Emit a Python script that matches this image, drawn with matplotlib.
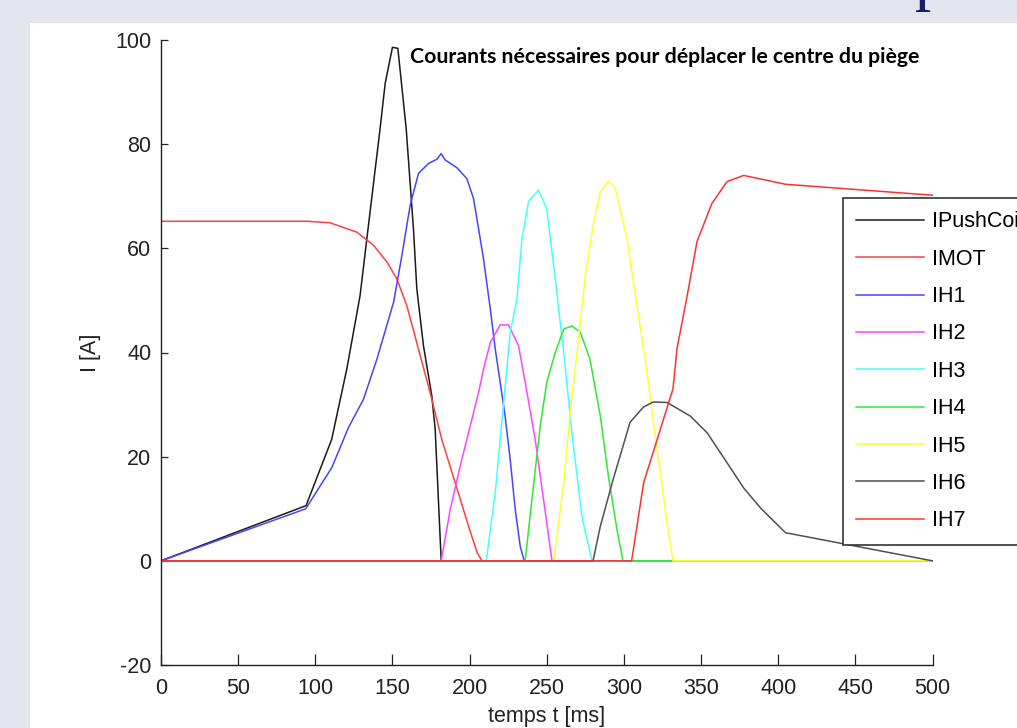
import numpy as np
import matplotlib.pyplot as plt
from matplotlib.patches import Rectangle

plt.rcParams['font.family'] = ['Liberation Sans', 'DejaVu Sans']
plt.rcParams['axes.unicode_minus'] = False

# values (t in ms, I in A)
t_push = [0, 94, 110.6, 120.4, 129, 135.5, 142, 145.3, 150, 153.5, 158.9, 163.6,
          165.8, 170.1, 175.5, 177.7, 181.6, 500]
i_push = [0, 10.6, 23.3, 36.8, 50.9, 67, 83, 91.7, 98.6, 98.4, 83, 63.8,
          52.2, 41.3, 31.7, 25.2, 0, 0]

t_mot = [0, 95, 109.6, 126.9, 137.7, 146.4, 152.9, 159.3, 163.4, 168, 174.4,
         179.8, 182, 187.4, 194, 200, 205, 208, 500]
i_mot = [65.2, 65.2, 64.9, 63.1, 60.6, 57.4, 54.1, 49, 44.5, 39.4, 32.3,
         25.9, 23.3, 18.1, 11.8, 6, 1.5, 0, 0]

t_h1 = [0, 93.8, 110.7, 121.5, 131.2, 139.9, 150.7, 156.1, 161.5, 166.9, 173.4,
        178.8, 181.6, 184, 191.7, 198.2, 202.5, 205.8, 209, 213.4, 216.6, 219.8,
        223, 226.3, 229.6, 232.8, 235.4, 500]
i_h1 = [0, 10.0, 17.9, 25.6, 31, 38.7, 49.6, 58.6, 68.3, 74.4, 76.3,
        77.1, 78.2, 77, 75.5, 73.4, 69.6, 63.8, 58, 48.4, 40.7, 34.3,
        27.8, 19.5, 9.8, 2.8, 0, 0]

t_h2 = [0, 181.6, 187.4, 193.9, 200.4, 205.8, 209, 213.4, 219.8, 225.2, 231.7,
        236, 242.5, 247.9, 253.4, 500]
i_h2 = [0, 0, 9.8, 18.2, 25.9, 32.3, 36.8, 41.9, 45.3, 45.3, 41.3,
        34.3, 23.3, 11.8, 0, 0]

t_h3 = [0, 210.8, 216.6, 221, 226.3, 230.7, 233.9, 238.2, 244.7, 250, 255.5,
        261, 266.3, 272.8, 279.3, 500]
i_h3 = [0, 0, 13, 27, 43.9, 50.3, 61.8, 69, 71.2, 67.6, 54.1,
        40, 24.6, 8.5, 0, 0]

t_h4 = [0, 236, 240.4, 245.8, 250, 255.5, 261, 266.3, 271.7, 278, 284.7,
        290, 295.5, 299.4, 500]
i_h4 = [0, 0, 11.8, 25.9, 34.3, 40, 44.5, 45.1, 43.9, 38.7, 27.8,
        16.2, 6, 0, 0]

t_h5 = [0, 254.5, 261, 265, 269.6, 275, 280.4, 284.7, 290, 294.4, 302,
        308.5, 315, 321.5, 328, 331.8, 500]
i_h5 = [0, 0, 15, 27.8, 40, 54.8, 65, 70.9, 72.9, 71.5, 61.8,
        49, 36.2, 21.4, 7.3, 0, 0]

t_h6 = [0, 280, 284.7, 293, 304, 312.6, 319, 328, 343, 353.9, 364.7,
        377.6, 388.4, 404.7, 500]
i_h6 = [0, 0, 6.6, 15.6, 26.6, 29.5, 30.5, 30.4, 27.8, 24.6, 19.8,
        14, 10.2, 5.4, 0]

t_h7 = [0, 305, 312.8, 331.8, 334.4, 341, 347.4, 357, 366.8, 377.6, 404.7, 500]
i_h7 = [0, 0, 15, 33, 40.7, 50.9, 61.3, 68.6, 72.8, 74, 72.3, 70.2]

labels = ["IPushCoil", "IMOT", "IH1", "IH2", "IH3", "IH4", "IH5", "IH6", "IH7"]
colors = ["#1a1a1a", "#ff4040", "#4545ff", "#ff45ff", "#45ffff",
          "#30e830", "#ffff30", "#505050", "#ff3030"]
series = [(t_push, i_push), (t_mot, i_mot), (t_h1, i_h1), (t_h2, i_h2),
          (t_h3, i_h3), (t_h4, i_h4), (t_h5, i_h5), (t_h6, i_h6), (t_h7, i_h7)]

W, H = 1017, 728
fig = plt.figure(figsize=(W / 100, H / 100), dpi=100, facecolor="#e4e4ec")
fig.patches.append(Rectangle((30 / W, 0), 1, (H - 23) / H, transform=fig.transFigure,
                             facecolor="white", edgecolor="none", zorder=-5))
# bottom of a slide-title letter peeking in at the top
fig.text(915 / W, 1 + 2 / H, "p", fontsize=47, family="Liberation Serif",
         color="#1b1b6b", ha="left", va="baseline")

ax = fig.add_axes([161 / W, (H - 665) / H, (932.5 - 161) / W, (665 - 40) / H])
ax.set_facecolor("none")

for (t, i), c, lab in zip(series, colors, labels):
    ax.plot(t, i, color=c, lw=1.1, label=lab)

ax.set_xlim(0, 500)
ax.set_ylim(-20, 100)
ax.set_xticks(np.arange(0, 501, 50))
ax.set_yticks(np.arange(-20, 101, 20))
for s in ["top", "right"]:
    ax.spines[s].set_visible(False)
for s in ["left", "bottom"]:
    ax.spines[s].set_linewidth(1.0)
    ax.spines[s].set_color("#222222")
ax.tick_params(axis="x", direction="in", length=8, width=0.9, pad=9.5,
               labelsize=15.5, colors="#222222")
ax.tick_params(axis="y", direction="in", length=5, width=0.9, pad=7,
               labelsize=15.5, colors="#222222")

ax.set_xlabel("temps t [ms]", fontsize=15.5, color="#222222")
ax.xaxis.set_label_coords(0.5, (665 - 706) / 626)
ax.set_ylabel("I [A]", fontsize=15.5, color="#222222")
ax.yaxis.set_label_coords((101 - 161) / 771.5, 0.5)

ax.text((410 - 161) / 771.5, (665 - 57) / 625, "Courants nécessaires pour déplacer le centre du piège",
        transform=ax.transAxes, ha="left", va="center", fontsize=15.3,
        fontweight="bold", family=["Lato", "DejaVu Sans"], color="black")

leg = ax.legend(loc="upper left", bbox_to_anchor=(842.5 / W, 1 - 198 / H),
                bbox_transform=fig.transFigure, borderaxespad=0, fancybox=False,
                framealpha=1, edgecolor="#333333", handlelength=3.16,
                handletextpad=0.37, labelspacing=0.76, borderpad=0.62,
                prop={"family": "Liberation Sans", "size": 15.5})
leg.get_frame().set_linewidth(1.2)

fig.savefig("out.png", dpi=100, facecolor=fig.get_facecolor())
